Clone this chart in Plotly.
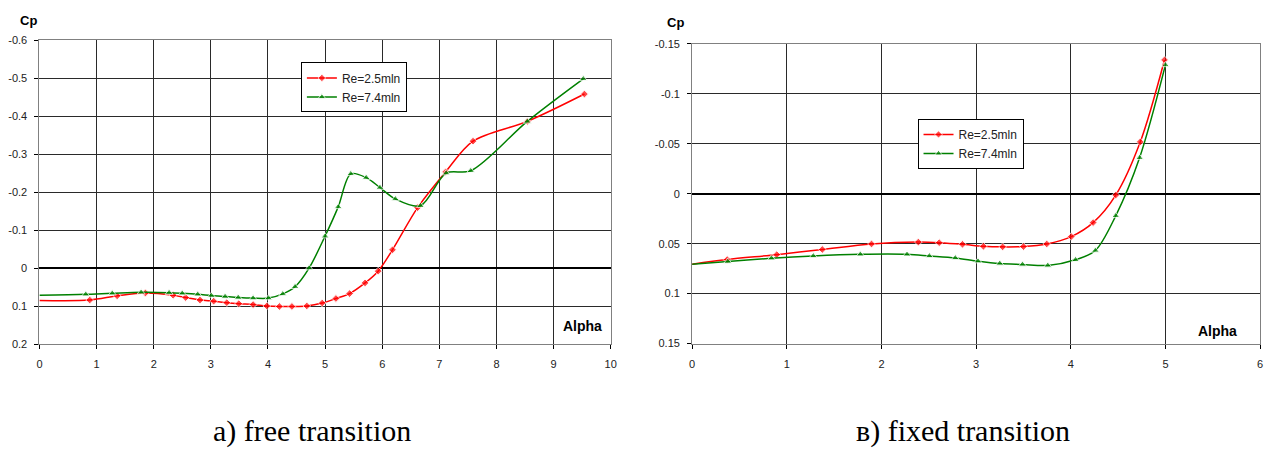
import plotly.graph_objects as go

# ---- free transition (left panel) ----
free_re25_alpha = [0.0, 0.88, 1.36, 1.855, 2.34, 2.56, 2.81, 3.05, 3.28, 3.49, 3.74, 3.98, 4.20, 4.42,
                   4.68, 4.95, 5.19, 5.43, 5.70, 5.93, 6.18, 6.62, 7.11, 7.59, 8.54, 9.54]
free_re25_cp = [0.085, 0.084, 0.073, 0.0655, 0.0715, 0.0775, 0.084, 0.087, 0.091, 0.0936, 0.096, 0.0996,
                0.101, 0.101, 0.0996, 0.092, 0.080, 0.067, 0.039, 0.008, -0.048, -0.159, -0.253, -0.334,
                -0.386, -0.458]
free_re74_alpha = [0.0, 0.81, 1.275, 1.78, 2.27, 2.50, 2.77, 3.01, 3.25, 3.48, 3.74, 4.01, 4.26, 4.475,
                   4.72, 5.0, 5.23, 5.45, 5.72, 5.96, 6.23, 6.67, 7.12, 7.55, 8.54, 9.52]
free_re74_cp = [0.0715, 0.069, 0.0664, 0.0638, 0.0647, 0.0664, 0.069, 0.0723, 0.0749, 0.0774, 0.079, 0.079,
                0.068, 0.049, 0.0, -0.084, -0.161, -0.248, -0.238, -0.212, -0.182, -0.164, -0.250, -0.256,
                -0.386, -0.498]

# ---- fixed transition (right panel) ----
fixed_re25_alpha = [0.0, 0.37, 0.894, 1.375, 1.895, 2.39, 2.61, 2.856, 3.077, 3.28, 3.50, 3.746, 4.005,
                    4.236, 4.475, 4.734, 4.99]
fixed_re25_cp = [0.0705, 0.0659, 0.061, 0.0558, 0.0503, 0.0484, 0.049, 0.0506, 0.0526, 0.0532, 0.0529,
                 0.0503, 0.0429, 0.0289, 0.0013, -0.0519, -0.134]
fixed_re74_alpha = [0.0, 0.377, 0.838, 1.28, 1.777, 2.27, 2.506, 2.78, 3.02, 3.25, 3.49, 3.757, 4.05,
                    4.26, 4.475, 4.727, 5.0]
fixed_re74_cp = [0.0705, 0.0679, 0.0646, 0.0623, 0.0607, 0.0607, 0.0623, 0.0643, 0.0675, 0.0698, 0.0708,
                 0.0718, 0.0662, 0.0568, 0.0221, -0.036, -0.129]

series_names = ["Re=2.5mln", "Re=7.4mln"]

left_ytick_vals = [-0.6, -0.5, -0.4, -0.3, -0.2, -0.1, 0, 0.1, 0.2]
left_ytick_text = ["-0.6", "-0.5", "-0.4", "-0.3", "-0.2", "-0.1", "0", "0.1", "0.2"]
left_xtick_vals = [0, 1, 2, 3, 4, 5, 6, 7, 8, 9, 10]
right_ytick_vals = [-0.15, -0.1, -0.05, 0, 0.05, 0.1, 0.15]
right_ytick_text = ["-0.15", "-0.1", "-0.05", "0", "0.05", "0.1", "0.15"]
right_xtick_vals = [0, 1, 2, 3, 4, 5, 6]

captions = ["a) free transition", "в) fixed transition"]

RED = "#ff0000"
GREEN = "#008000"
W, H = 1280, 453


def marker_sizes(n, size):
    # first sample sits on the axis and is drawn without a marker
    return [0] + [size] * (n - 1)


fig = go.Figure()

fig.add_trace(go.Scatter(
    x=free_re25_alpha, y=free_re25_cp, name=series_names[0], mode="lines+markers",
    line=dict(color=RED, width=1.5, shape="spline", smoothing=0.9),
    marker=dict(symbol="diamond", size=marker_sizes(len(free_re25_alpha), 6), color=RED),
    xaxis="x", yaxis="y", legend="legend"))
fig.add_trace(go.Scatter(
    x=free_re74_alpha, y=free_re74_cp, name=series_names[1], mode="lines+markers",
    line=dict(color=GREEN, width=1.5, shape="spline", smoothing=0.9),
    marker=dict(symbol="triangle-up", size=marker_sizes(len(free_re74_alpha), 7), color=GREEN),
    xaxis="x", yaxis="y", legend="legend"))
fig.add_trace(go.Scatter(
    x=fixed_re25_alpha, y=fixed_re25_cp, name=series_names[0], mode="lines+markers",
    line=dict(color=RED, width=1.5, shape="spline", smoothing=0.9),
    marker=dict(symbol="diamond", size=marker_sizes(len(fixed_re25_alpha), 6), color=RED),
    xaxis="x2", yaxis="y2", legend="legend2"))
fig.add_trace(go.Scatter(
    x=fixed_re74_alpha, y=fixed_re74_cp, name=series_names[1], mode="lines+markers",
    line=dict(color=GREEN, width=1.5, shape="spline", smoothing=0.9),
    marker=dict(symbol="triangle-up", size=marker_sizes(len(fixed_re74_alpha), 7), color=GREEN),
    xaxis="x2", yaxis="y2", legend="legend2"))

tick_font = dict(family="Liberation Sans, Arial", size=11, color="#222")
GRID = "#2a2a2a"


def xaxis_style(domain, rng, vals, anchor):
    return dict(domain=domain, range=rng, tickvals=vals, ticktext=[str(v) for v in vals],
                showgrid=True, gridcolor=GRID, gridwidth=1,
                zeroline=True, zerolinecolor="#000", zerolinewidth=1,
                showline=True, linecolor="#808080", linewidth=1, mirror=True,
                ticks="outside", ticklen=4, tickcolor="#000", tickfont=tick_font,
                ticklabelstandoff=6, anchor=anchor, fixedrange=True)


def yaxis_style(domain, rng, vals, text, anchor):
    return dict(domain=domain, range=rng, tickvals=vals, ticktext=text,
                showgrid=True, gridcolor=GRID, gridwidth=1,
                zeroline=True, zerolinecolor="#000", zerolinewidth=2,
                showline=True, linecolor="#808080", linewidth=1, mirror=True,
                ticks="outside", ticklen=4, tickcolor="#000", tickfont=tick_font,
                ticklabelstandoff=5, anchor=anchor, fixedrange=True)


legend_style = dict(bgcolor="#fff", bordercolor="#000", borderwidth=1,
                    font=dict(family="Liberation Sans, Arial", size=12, color="#222"),
                    xanchor="left", yanchor="top", itemwidth=30, tracegroupgap=0)

fig.update_layout(
    width=W, height=H, margin=dict(l=0, r=0, t=0, b=0),
    paper_bgcolor="#fff", plot_bgcolor="#fff", showlegend=True,
    xaxis=xaxis_style([36.7 / W, 612 / W], [0, 10], left_xtick_vals, "y"),
    yaxis=yaxis_style([1 - 347.3 / H, 1 - 35 / H], [0.2, -0.6], left_ytick_vals, left_ytick_text, "x"),
    xaxis2=xaxis_style([694 / W, 1266 / W], [0, 6], right_xtick_vals, "y2"),
    yaxis2=yaxis_style([1 - 346.7 / H, 1 - 39 / H], [0.15, -0.15], right_ytick_vals, right_ytick_text, "x2"),
    legend=dict(x=300 / W, y=1 - 58 / H, **legend_style),
    legend2=dict(x=921 / W, y=1 - 116 / H, **legend_style),
)

cp_font = dict(family="Liberation Sans, Arial", size=13, color="#000")
alpha_font = dict(family="Liberation Sans, Arial", size=14, color="#000")
caption_font = dict(family="Liberation Serif, Times New Roman", size=30, color="#000")

annotations = [
    dict(text="<b>Cp</b>", x=26 / W, y=1 - 15 / H, font=cp_font),
    dict(text="<b>Cp</b>", x=677 / W, y=1 - 17 / H, font=cp_font),
    dict(text="<b>Alpha</b>", x=584 / W, y=1 - 329 / H, font=alpha_font),
    dict(text="<b>Alpha</b>", x=1223 / W, y=1 - 334 / H, font=alpha_font),
]
for a in annotations:
    fig.add_annotation(xref="paper", yref="paper", showarrow=False,
                       xanchor="center", yanchor="middle", **a)

fig.add_annotation(text=captions[0], xref="paper", yref="paper", x=311 / W, y=1 - 437 / H,
                   showarrow=False, xanchor="center", yanchor="middle", font=caption_font)
fig.add_annotation(text=captions[1], xref="paper", yref="paper", x=967 / W, y=1 - 437 / H,
                   showarrow=False, xanchor="center", yanchor="middle", font=caption_font)

fig.write_html("out.html", config={"displayModeBar": False})
